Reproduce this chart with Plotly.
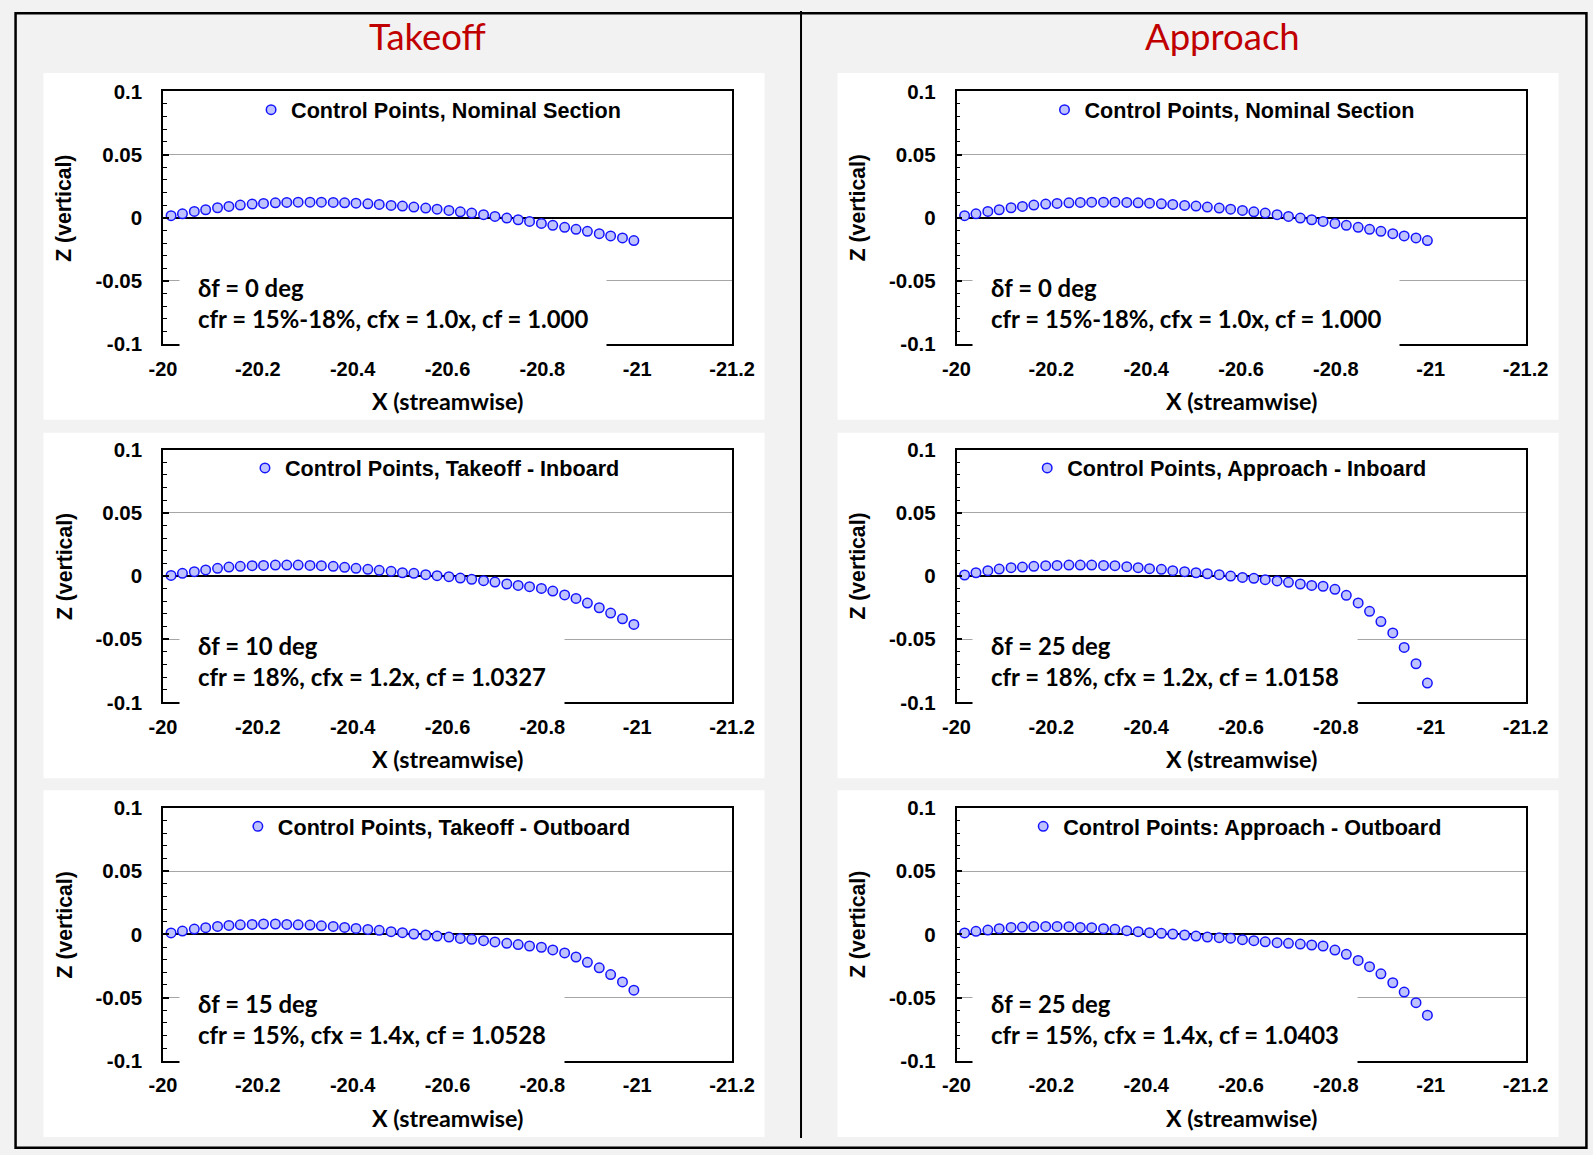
import plotly.graph_objects as go

# Figure size in CSS pixels
W, H = 1611, 1160
# Placement of the figure on the page: page = offset + scale * figure px
OX, OY = 13.5, 11.0
SX, SY = 0.977, 0.981

# Streamwise stations of the control points (same for every section)
x_cp = [-20.017, -20.041, -20.066, -20.090, -20.115, -20.139, -20.163, -20.188,
        -20.212, -20.237, -20.261, -20.285, -20.310, -20.334, -20.359, -20.383,
        -20.407, -20.432, -20.456, -20.481, -20.505, -20.529, -20.554, -20.578,
        -20.603, -20.627, -20.651, -20.676, -20.700, -20.725, -20.749, -20.773,
        -20.798, -20.822, -20.847, -20.871, -20.895, -20.920, -20.944, -20.969,
        -20.993]

# Vertical coordinates of the control points for each flap setting
z_nominal = [0.0016, 0.0031, 0.0050, 0.0063, 0.0079, 0.0089, 0.0100, 0.0108,
             0.0113, 0.0118, 0.0121, 0.0123, 0.0123, 0.0123, 0.0121, 0.0118,
             0.0115, 0.0110, 0.0105, 0.0097, 0.0092, 0.0084, 0.0076, 0.0068,
             0.0058, 0.0047, 0.0037, 0.0024, 0.0010, -0.0003, -0.0016, -0.0029,
             -0.0045, -0.0060, -0.0076, -0.0092, -0.0108, -0.0126, -0.0144,
             -0.0160, -0.0181]

z_takeoff_inboard = [0.0005, 0.0021, 0.0034, 0.0048, 0.0061, 0.0071, 0.0077, 0.0082,
                     0.0084, 0.0087, 0.0087, 0.0087, 0.0084, 0.0082, 0.0077, 0.0069,
                     0.0061, 0.0053, 0.0045, 0.0037, 0.0026, 0.0021, 0.0011, 0.0003,
                     -0.0005, -0.0016, -0.0026, -0.0037, -0.0048, -0.0063, -0.0074,
                     -0.0084, -0.0098, -0.0119, -0.0150, -0.0177, -0.0214, -0.0251,
                     -0.0293, -0.0338, -0.0383]

z_takeoff_outboard = [0.0011, 0.0026, 0.0042, 0.0053, 0.0063, 0.0071, 0.0076, 0.0079,
                      0.0082, 0.0082, 0.0079, 0.0076, 0.0074, 0.0068, 0.0063, 0.0055,
                      0.0047, 0.0039, 0.0032, 0.0021, 0.0013, 0.0003, -0.0005, -0.0013,
                      -0.0021, -0.0032, -0.0039, -0.0050, -0.0060, -0.0071, -0.0081,
                      -0.0092, -0.0102, -0.0123, -0.0147, -0.0179, -0.0221, -0.0265,
                      -0.0318, -0.0376, -0.0442]

z_approach_inboard = [0.0008, 0.0026, 0.0042, 0.0055, 0.0066, 0.0071, 0.0077, 0.0082,
                      0.0084, 0.0087, 0.0087, 0.0087, 0.0084, 0.0082, 0.0074, 0.0066,
                      0.0058, 0.0053, 0.0042, 0.0034, 0.0026, 0.0018, 0.0011, 0.0000,
                      -0.0011, -0.0018, -0.0029, -0.0039, -0.0050, -0.0063, -0.0074,
                      -0.0081, -0.0105, -0.0153, -0.0213, -0.0279, -0.0360, -0.0450,
                      -0.0565, -0.0694, -0.0847]

z_approach_outboard = [0.0011, 0.0024, 0.0034, 0.0045, 0.0055, 0.0058, 0.0063, 0.0063,
                       0.0063, 0.0061, 0.0055, 0.0053, 0.0045, 0.0040, 0.0029, 0.0021,
                       0.0013, 0.0008, 0.0003, -0.0005, -0.0013, -0.0021, -0.0026,
                       -0.0030, -0.0042, -0.0050, -0.0059, -0.0066, -0.0071, -0.0077,
                       -0.0084, -0.0092, -0.0124, -0.0158, -0.0206, -0.0256, -0.0312,
                       -0.0383, -0.0457, -0.0541, -0.0640]

column_titles = ["Takeoff", "Approach"]

series_names = [
    "Control Points, Nominal Section",
    "Control Points, Nominal Section",
    "Control Points, Takeoff - Inboard",
    "Control Points, Approach - Inboard",
    "Control Points, Takeoff - Outboard",
    "Control Points: Approach - Outboard",
]
series_values = [z_nominal, z_nominal, z_takeoff_inboard, z_approach_inboard,
                 z_takeoff_outboard, z_approach_outboard]
flap_labels = [
    "δf = 0 deg<br>cfr = 15%-18%, cfx = 1.0x, cf = 1.000",
    "δf = 0 deg<br>cfr = 15%-18%, cfx = 1.0x, cf = 1.000",
    "δf = 10 deg<br>cfr = 18%, cfx = 1.2x, cf = 1.0327",
    "δf = 25 deg<br>cfr = 18%, cfx = 1.2x, cf = 1.0158",
    "δf = 15 deg<br>cfr = 15%, cfx = 1.4x, cf = 1.0528",
    "δf = 25 deg<br>cfr = 15%, cfx = 1.4x, cf = 1.0403",
]

x_range = [-20, -21.2]
z_range = [-0.1, 0.1]
x_ticks = [-20, -20.2, -20.4, -20.6, -20.8, -21, -21.2]
x_ticktext = ["-20", "-20.2", "-20.4", "-20.6", "-20.8", "-21", "-21.2"]
z_ticks = [-0.1, -0.05, 0, 0.05, 0.1]
z_ticktext = ["-0.1", "-0.05", "0", "0.05", "0.1"]

# ---- page geometry (page pixels) ----
col_px = [(162.5, 731.5), (956.0, 1525.0)]
row_px = [(90.4, 343.4), (449.0, 702.0), (807.7, 1060.6)]
panel_cols = [(43, 764), (837, 1558)]
panel_rows = [(72, 419), (432, 778), (790, 1137)]
legend_text_left = [291.6, 1085.0, 285.5, 1067.7, 278.4, 1063.7]


def fig_x(p):
    return (p - OX) / SX


def fig_y(p):
    return (p - OY) / SY


def fx(p):
    return fig_x(p) / W


def fy(p):
    return 1 - fig_y(p) / H


ARIAL = "Liberation Sans, Arial, sans-serif"
LATO = "Lato, Carlito, sans-serif"

fig = go.Figure()
layout = dict(
    width=W, height=H,
    margin=dict(l=0, r=0, t=0, b=0),
    paper_bgcolor="#f2f2f2",
    plot_bgcolor="white",
    showlegend=True,
    shapes=[], annotations=[],
)

for k in range(6):
    r, c = divmod(k, 2)
    i = k + 1
    sx = "" if i == 1 else str(i)
    (x0, x1), (y0, y1) = col_px[c], row_px[r]
    xd = [fx(x0), fx(x1)]
    yd = [fy(y1), fy(y0)]
    zero_pos = (yd[0] + yd[1]) / 2
    leg = "legend" if i == 1 else f"legend{i}"

    fig.add_trace(go.Scatter(
        x=x_cp, y=series_values[k], mode="markers", name=series_names[k],
        xaxis=f"x{sx}", yaxis=f"y{sx}", legend=leg,
        marker=dict(size=9.5, color="rgb(190,195,255)",
                    line=dict(color="rgb(20,20,255)", width=1.5)),
        hoverinfo="x+y",
    ))

    layout[f"xaxis{sx}"] = dict(
        domain=xd, anchor=f"y{sx}", range=x_range,
        tickvals=x_ticks, ticktext=x_ticktext, ticks="",
        showgrid=False, zeroline=False,
        showline=True, linecolor="black", linewidth=1.5, mirror=True,
        tickfont=dict(family=ARIAL, size=20, color="black", weight="bold"),
        ticklabelstandoff=6,
    )
    layout[f"yaxis{sx}"] = dict(
        domain=yd, anchor=f"x{sx}", range=z_range,
        tickvals=z_ticks, ticktext=z_ticktext,
        ticks="inside", ticklen=6, tickcolor="black", tickwidth=1.5,
        minor=dict(ticks="inside", ticklen=4, dtick=0.01, tick0=0,
                   tickcolor="black", tickwidth=1, showgrid=False),
        showgrid=True, gridcolor="#a6a6a6", gridwidth=1,
        zeroline=True, zerolinecolor="black", zerolinewidth=2.2,
        showline=True, linecolor="black", linewidth=1.5, mirror=True,
        tickfont=dict(family=ARIAL, size=20.5, color="black", weight="bold"),
        ticklabelstandoff=15,
    )
    # tick marks carried on the zero line: major ticks below, short ticks above
    ia, ib = 6 + i, 12 + i
    common = dict(overlaying=f"x{sx}", anchor="free", position=zero_pos,
                  range=x_range, tickvals=x_ticks, showticklabels=False,
                  showgrid=False, zeroline=False, showline=False,
                  layer="below traces")
    layout[f"xaxis{ia}"] = dict(common, ticks="outside", ticklen=7,
                                tickcolor="black", tickwidth=2)
    layout[f"xaxis{ib}"] = dict(common, ticks="inside", ticklen=4,
                                tickcolor="black", tickwidth=2,
                                minor=dict(ticks="inside", ticklen=4, dtick=0.05,
                                           tick0=-20, tickcolor="black",
                                           tickwidth=1.5, showgrid=False))

    # legend near the top of each plot
    layout[leg] = dict(
        x=(fig_x(legend_text_left[k]) - 42) / W, xanchor="left",
        y=fy(y0 + 18.8), yanchor="middle",
        bgcolor="rgba(0,0,0,0)", borderwidth=0,
        font=dict(family=ARIAL, size=21.6, color="black", weight="bold"),
        itemwidth=30, tracegroupgap=0,
    )

    # flap description block (white box hides the grid line behind it)
    layout["annotations"].append(dict(
        xref="paper", yref="paper",
        x=(fig_x(x0 + 35.6) - 20.5) / W, y=fy(y0 + 211.6),
        xanchor="left", yanchor="middle", align="left",
        text=flap_labels[k], showarrow=False,
        bgcolor="white", borderpad=18,
        font=dict(family=LATO, size=23.9, color="black", weight="bold"),
    ))
    # axis titles
    layout["annotations"].append(dict(
        xref="paper", yref="paper", x=fx((x0 + x1) / 2), y=fy(y1 + 57.0),
        xanchor="center", yanchor="middle", text="X (streamwise)",
        showarrow=False,
        font=dict(family=LATO, size=23.3, color="black", weight="bold"),
    ))
    layout["annotations"].append(dict(
        xref="paper", yref="paper", x=fx(x0 - 98.5), y=fy(y0 + 117.0),
        xanchor="center", yanchor="middle", text="Z (vertical)", textangle=-90,
        showarrow=False,
        font=dict(family=ARIAL, size=21.2, color="black", weight="bold"),
    ))

# white panels behind each chart
for (py0, py1) in panel_rows:
    for (px0, px1) in panel_cols:
        layout["shapes"].append(dict(
            type="rect", xref="paper", yref="paper", layer="below",
            x0=fx(px0), x1=fx(px1), y0=fy(py1), y1=fy(py0),
            fillcolor="white", line=dict(width=0),
        ))

# outer frame and column divider
layout["shapes"].append(dict(
    type="rect", xref="paper", yref="paper", layer="above",
    x0=0.001, x1=0.999, y0=0.001, y1=0.999,
    line=dict(color="black", width=2.5), fillcolor="rgba(0,0,0,0)",
))
layout["shapes"].append(dict(
    type="line", xref="paper", yref="paper", layer="above",
    x0=fx(800.5), x1=fx(800.5), y0=fy(1138), y1=fy(10),
    line=dict(color="black", width=2),
))

# column headings
for (cx, title) in zip([426.5, 1221.5], column_titles):
    layout["annotations"].append(dict(
        xref="paper", yref="paper", x=fx(cx), y=fy(35.5),
        xanchor="center", yanchor="middle", text=title, showarrow=False,
        font=dict(family=LATO, size=36.5, color="#c00000"),
    ))

fig.update_layout(**layout)
fig.write_html("out.html")
